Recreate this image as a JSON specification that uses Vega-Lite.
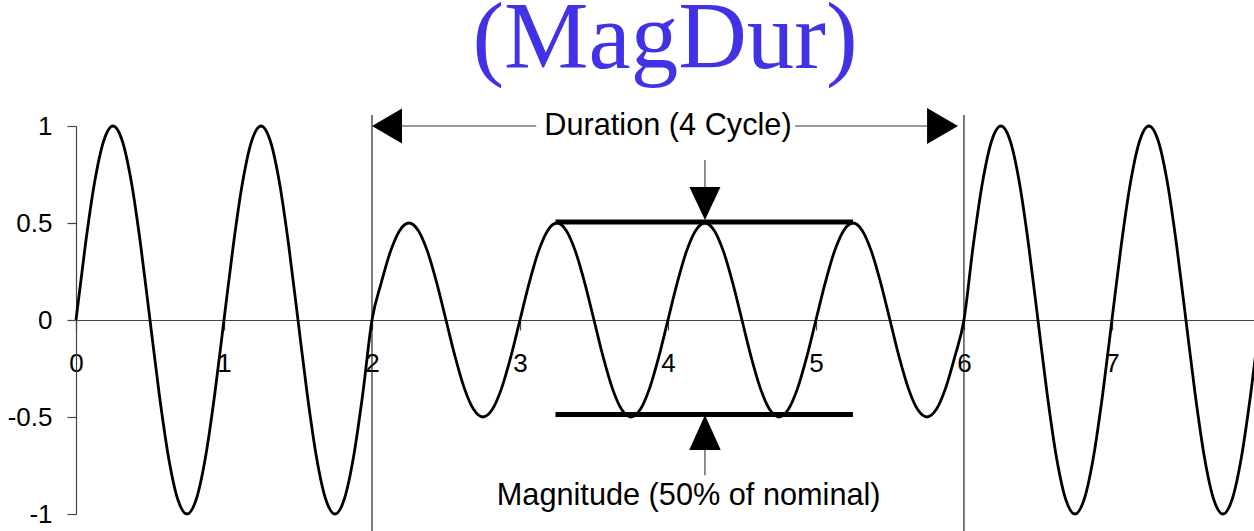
{
  "$schema": "https://vega.github.io/schema/vega-lite/v6.json",
  "autosize": {"type": "none"},
  "width": 1178,
  "height": 388,
  "padding": {"left": 76, "top": 126, "right": 0, "bottom": 17},
  "background": "white",
  "title": {
    "text": "(MagDur)",
    "font": "Liberation Serif",
    "fontSize": 95,
    "fontWeight": "normal",
    "color": "#4232E6",
    "anchor": "middle",
    "frame": "group",
    "baseline": "alphabetic",
    "offset": -55
  },
  "config": {
    "view": {"stroke": null},
    "axis": {"grid": false}
  },
  "datasets": {
    "wave": [
      {"x":0,"y":0},{"x":0.0625,"y":0.3827},{"x":0.125,"y":0.7071},{"x":0.1875,"y":0.9239},{"x":0.25,"y":1},{"x":0.3125,"y":0.9239},{"x":0.375,"y":0.7071},{"x":0.4375,"y":0.3827},
      {"x":0.5,"y":0},{"x":0.5625,"y":-0.3827},{"x":0.625,"y":-0.7071},{"x":0.6875,"y":-0.9239},{"x":0.75,"y":-1},{"x":0.8125,"y":-0.9239},{"x":0.875,"y":-0.7071},{"x":0.9375,"y":-0.3827},
      {"x":1,"y":0},{"x":1.0625,"y":0.3827},{"x":1.125,"y":0.7071},{"x":1.1875,"y":0.9239},{"x":1.25,"y":1},{"x":1.3125,"y":0.9239},{"x":1.375,"y":0.7071},{"x":1.4375,"y":0.3827},
      {"x":1.5,"y":0},{"x":1.5625,"y":-0.3827},{"x":1.625,"y":-0.7071},{"x":1.6875,"y":-0.9239},{"x":1.75,"y":-1},{"x":1.8125,"y":-0.9239},{"x":1.875,"y":-0.7071},{"x":1.9375,"y":-0.3827},
      {"x":2,"y":0},{"x":2.0625,"y":0.1913},{"x":2.125,"y":0.3536},{"x":2.1875,"y":0.4619},{"x":2.25,"y":0.5},{"x":2.3125,"y":0.4619},{"x":2.375,"y":0.3536},{"x":2.4375,"y":0.1913},
      {"x":2.5,"y":0},{"x":2.5625,"y":-0.1913},{"x":2.625,"y":-0.3536},{"x":2.6875,"y":-0.4619},{"x":2.75,"y":-0.5},{"x":2.8125,"y":-0.4619},{"x":2.875,"y":-0.3536},{"x":2.9375,"y":-0.1913},
      {"x":3,"y":0},{"x":3.0625,"y":0.1913},{"x":3.125,"y":0.3536},{"x":3.1875,"y":0.4619},{"x":3.25,"y":0.5},{"x":3.3125,"y":0.4619},{"x":3.375,"y":0.3536},{"x":3.4375,"y":0.1913},
      {"x":3.5,"y":0},{"x":3.5625,"y":-0.1913},{"x":3.625,"y":-0.3536},{"x":3.6875,"y":-0.4619},{"x":3.75,"y":-0.5},{"x":3.8125,"y":-0.4619},{"x":3.875,"y":-0.3536},{"x":3.9375,"y":-0.1913},
      {"x":4,"y":0},{"x":4.0625,"y":0.1913},{"x":4.125,"y":0.3536},{"x":4.1875,"y":0.4619},{"x":4.25,"y":0.5},{"x":4.3125,"y":0.4619},{"x":4.375,"y":0.3536},{"x":4.4375,"y":0.1913},
      {"x":4.5,"y":0},{"x":4.5625,"y":-0.1913},{"x":4.625,"y":-0.3536},{"x":4.6875,"y":-0.4619},{"x":4.75,"y":-0.5},{"x":4.8125,"y":-0.4619},{"x":4.875,"y":-0.3536},{"x":4.9375,"y":-0.1913},
      {"x":5,"y":0},{"x":5.0625,"y":0.1913},{"x":5.125,"y":0.3536},{"x":5.1875,"y":0.4619},{"x":5.25,"y":0.5},{"x":5.3125,"y":0.4619},{"x":5.375,"y":0.3536},{"x":5.4375,"y":0.1913},
      {"x":5.5,"y":0},{"x":5.5625,"y":-0.1913},{"x":5.625,"y":-0.3536},{"x":5.6875,"y":-0.4619},{"x":5.75,"y":-0.5},{"x":5.8125,"y":-0.4619},{"x":5.875,"y":-0.3536},{"x":5.9375,"y":-0.1913},
      {"x":6,"y":0},{"x":6.0625,"y":0.3827},{"x":6.125,"y":0.7071},{"x":6.1875,"y":0.9239},{"x":6.25,"y":1},{"x":6.3125,"y":0.9239},{"x":6.375,"y":0.7071},{"x":6.4375,"y":0.3827},
      {"x":6.5,"y":0},{"x":6.5625,"y":-0.3827},{"x":6.625,"y":-0.7071},{"x":6.6875,"y":-0.9239},{"x":6.75,"y":-1},{"x":6.8125,"y":-0.9239},{"x":6.875,"y":-0.7071},{"x":6.9375,"y":-0.3827},
      {"x":7,"y":0},{"x":7.0625,"y":0.3827},{"x":7.125,"y":0.7071},{"x":7.1875,"y":0.9239},{"x":7.25,"y":1},{"x":7.3125,"y":0.9239},{"x":7.375,"y":0.7071},{"x":7.4375,"y":0.3827},
      {"x":7.5,"y":0},{"x":7.5625,"y":-0.3827},{"x":7.625,"y":-0.7071},{"x":7.6875,"y":-0.9239},{"x":7.75,"y":-1},{"x":7.8125,"y":-0.9239},{"x":7.875,"y":-0.7071},{"x":7.9375,"y":-0.3827},
      {"x":8,"y":0}
    ],
    "vlines": [{"x":2,"y":1.057,"y2":-1.1},{"x":6,"y":1.057,"y2":-1.1}],
    "durline": [{"x":2.05,"x2":3.11,"y":1},{"x":4.86,"x2":5.9,"y":1}],
    "thick": [{"x":3.24,"x2":5.25,"y":0.505},{"x":3.24,"x2":5.25,"y":-0.487}],
    "stems": [{"x":4.25,"y":0.825,"y2":0.62},{"x":4.25,"y":-0.8,"y2":-0.62}],
    "heads": [
      {"x":2,"y":1,"dir":"left"},
      {"x":5.96,"y":1,"dir":"right"},
      {"x":4.25,"y":0.515,"dir":"down"},
      {"x":4.25,"y":-0.49,"dir":"up"}
    ],
    "notes": [
      {"x":4,"y":1,"t":"Duration (4 Cycle)"},
      {"x":4.14,"y":-0.905,"t":"Magnitude (50% of nominal)"}
    ]
  },
  "layer": [
    {
      "data": {"name": "vlines"},
      "mark": {"type": "rule", "color": "#222", "strokeWidth": 1.2},
      "encoding": {
        "x": {"field": "x", "type": "quantitative", "scale": {"domain": [0, 7.96], "nice": false, "zero": false},
          "axis": {"values": [0,1,2,3,4,5,6,7], "orient": "bottom", "offset": -194, "title": null,
            "labelExpr": "datum.value + ''",
            "labelFont": "Liberation Sans", "labelFontSize": 26, "labelColor": "#000", "labelPadding": 20,
            "tickSize": 10, "tickColor": "#444", "domainColor": "#444", "domainWidth": 1.2, "tickWidth": 1.2, "labelFlush": false, "labelOverlap": false}},
        "y": {"field": "y", "type": "quantitative", "scale": {"domain": [-1, 1], "nice": false, "zero": false},
          "axis": {"values": [-1,-0.5,0,0.5,1], "title": null,
            "labelExpr": "datum.value + ''",
            "labelFont": "Liberation Sans", "labelFontSize": 26, "labelColor": "#000", "labelPadding": 15,
            "tickSize": 9, "tickColor": "#444", "domainColor": "#444", "domainWidth": 1.2, "tickWidth": 1.2, "labelFlush": false, "labelOverlap": false}},
        "y2": {"field": "y2"}
      }
    },
    {
      "data": {"name": "wave"},
      "mark": {"type": "line", "color": "#000", "strokeWidth": 2.8, "interpolate": "monotone"},
      "encoding": {
        "x": {"field": "x", "type": "quantitative"},
        "y": {"field": "y", "type": "quantitative"}
      }
    },
    {
      "data": {"name": "durline"},
      "mark": {"type": "rule", "color": "#333", "strokeWidth": 1.2},
      "encoding": {
        "x": {"field": "x", "type": "quantitative"},
        "x2": {"field": "x2"},
        "y": {"field": "y", "type": "quantitative"}
      }
    },
    {
      "data": {"name": "thick"},
      "mark": {"type": "rule", "color": "#000", "strokeWidth": 5},
      "encoding": {
        "x": {"field": "x", "type": "quantitative"},
        "x2": {"field": "x2"},
        "y": {"field": "y", "type": "quantitative"}
      }
    },
    {
      "data": {"name": "stems"},
      "mark": {"type": "rule", "color": "#444", "strokeWidth": 1.2},
      "encoding": {
        "x": {"field": "x", "type": "quantitative"},
        "y": {"field": "y", "type": "quantitative"},
        "y2": {"field": "y2"}
      }
    },
    {
      "data": {"name": "heads"},
      "mark": {"type": "point", "filled": true, "color": "#000", "opacity": 1, "size": 1225},
      "encoding": {
        "x": {"field": "x", "type": "quantitative"},
        "y": {"field": "y", "type": "quantitative"},
        "shape": {"field": "dir", "type": "nominal", "legend": null,
          "scale": {"domain": ["left","right","down","up"],
            "range": ["M0,0 L1.714,-1 L1.714,1 Z", "M0,0 L-1.77,-1.03 L-1.77,1.03 Z", "M0,0 L-0.886,-1.886 L0.886,-1.886 Z", "M0,0 L-0.9,2 L0.9,2 Z"]}}
      }
    },
    {
      "data": {"name": "notes"},
      "mark": {"type": "text", "font": "Liberation Sans", "fontSize": 30.7, "color": "#000", "align": "center", "baseline": "middle"},
      "encoding": {
        "x": {"field": "x", "type": "quantitative"},
        "y": {"field": "y", "type": "quantitative"},
        "text": {"field": "t"}
      }
    }
  ]
}
